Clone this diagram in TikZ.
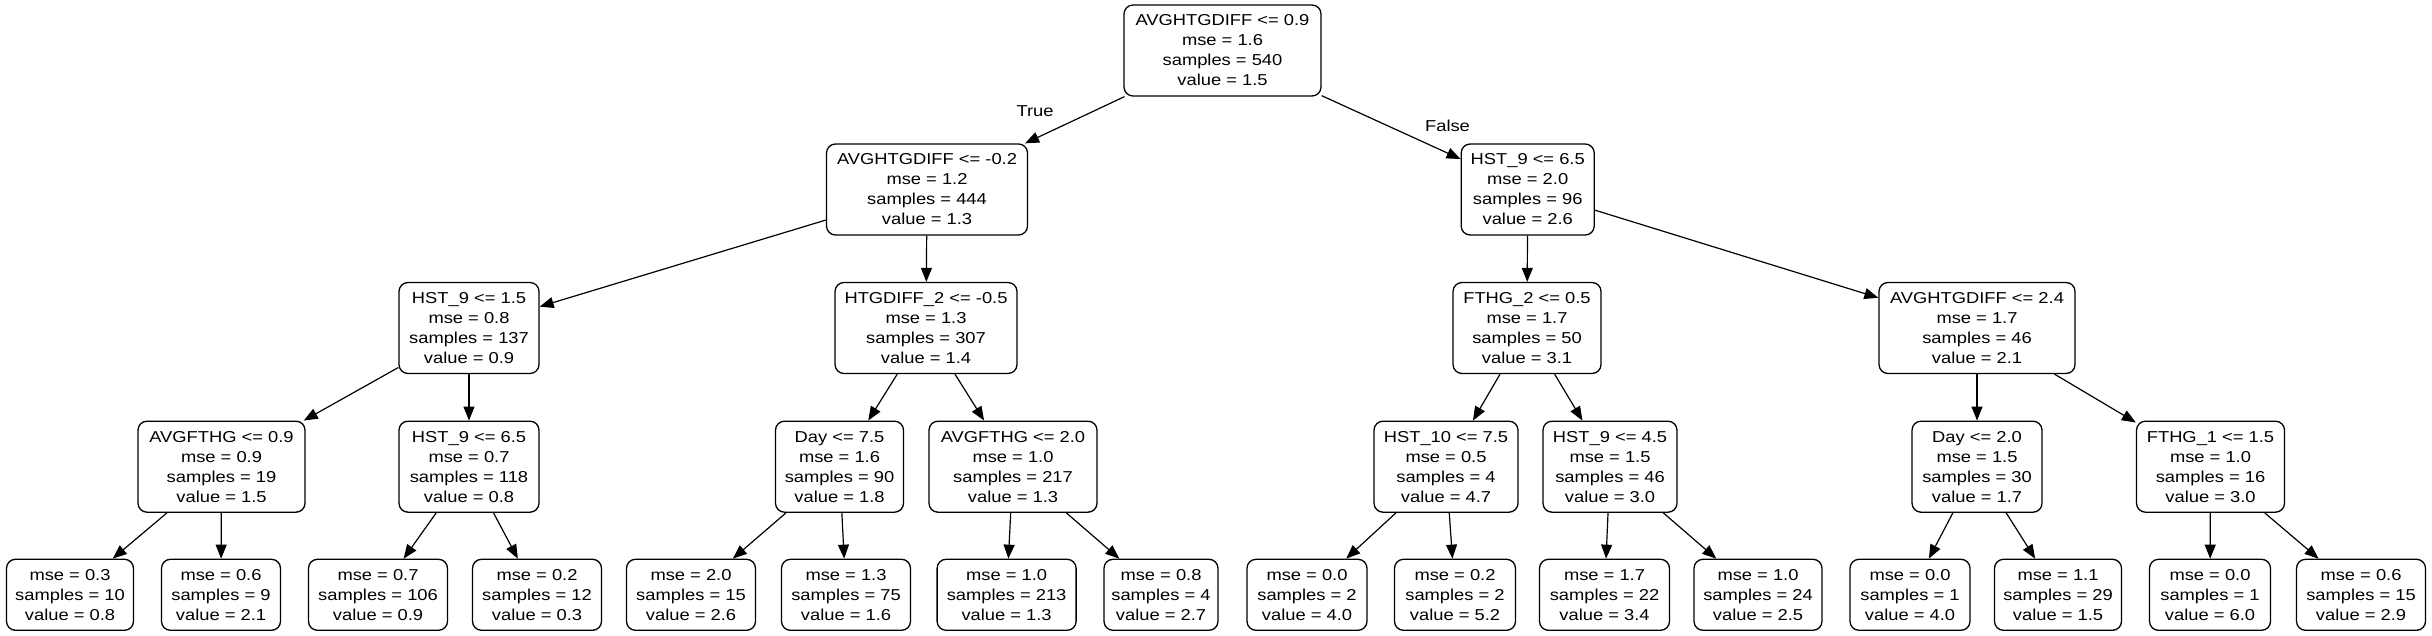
\documentclass[tikz,border=0pt]{standalone}
\usepackage{fontspec}
\setmainfont{Liberation Sans}[FakeStretch=1.16]
\usetikzlibrary{arrows.meta}
\tikzset{
  tbox/.style={draw, line width=1.3pt, rounded corners=9pt, inner sep=0pt, minimum height=91pt, align=center, font=\fontsize{15.8}{20}\selectfont},
  leaf/.style={tbox, minimum height=71pt},
  edge/.style={line width=1.2pt, -{Triangle[length=14pt,width=11pt]}},
  elabel/.style={font=\fontsize{15.8}{20}\selectfont, inner sep=0pt}
}
\begin{document}
\begin{tikzpicture}[x=1pt,y=-1pt]
\useasboundingbox (0,0) rectangle (2432,636);
% level 0
\node[tbox, minimum width=197pt] (r) at (1222.5,50.5) {AVGHTGDIFF <= 0.9\\mse = 1.6\\samples = 540\\value = 1.5};
% level 1
\node[tbox, minimum width=201pt] (a) at (927,189.5) {AVGHTGDIFF <= -0.2\\mse = 1.2\\samples = 444\\value = 1.3};
\node[tbox, minimum width=133pt] (b) at (1527.7,189.5) {HST\_9 <= 6.5\\mse = 2.0\\samples = 96\\value = 2.6};
% level 2
\node[tbox, minimum width=140pt] (c) at (469,328) {HST\_9 <= 1.5\\mse = 0.8\\samples = 137\\value = 0.9};
\node[tbox, minimum width=182pt] (d) at (926,328) {HTGDIFF\_2 <= -0.5\\mse = 1.3\\samples = 307\\value = 1.4};
\node[tbox, minimum width=148pt] (e) at (1527,328) {FTHG\_2 <= 0.5\\mse = 1.7\\samples = 50\\value = 3.1};
\node[tbox, minimum width=196pt] (f) at (1977,328) {AVGHTGDIFF <= 2.4\\mse = 1.7\\samples = 46\\value = 2.1};
% level 3
\node[tbox, minimum width=167pt] (g) at (221.5,466.7) {AVGFTHG <= 0.9\\mse = 0.9\\samples = 19\\value = 1.5};
\node[tbox, minimum width=140pt] (h) at (469,466.7) {HST\_9 <= 6.5\\mse = 0.7\\samples = 118\\value = 0.8};
\node[tbox, minimum width=128pt] (i) at (839.5,466.7) {Day <= 7.5\\mse = 1.6\\samples = 90\\value = 1.8};
\node[tbox, minimum width=168pt] (j) at (1013,466.7) {AVGFTHG <= 2.0\\mse = 1.0\\samples = 217\\value = 1.3};
\node[tbox, minimum width=144pt] (k) at (1446,466.7) {HST\_10 <= 7.5\\mse = 0.5\\samples = 4\\value = 4.7};
\node[tbox, minimum width=134pt] (l) at (1610,466.7) {HST\_9 <= 4.5\\mse = 1.5\\samples = 46\\value = 3.0};
\node[tbox, minimum width=130pt] (m) at (1977,466.7) {Day <= 2.0\\mse = 1.5\\samples = 30\\value = 1.7};
\node[tbox, minimum width=148pt] (n) at (2210.5,466.7) {FTHG\_1 <= 1.5\\mse = 1.0\\samples = 16\\value = 3.0};
% level 4
\node[leaf, minimum width=127pt] (l1) at (70,594.8) {mse = 0.3\\samples = 10\\value = 0.8};
\node[leaf, minimum width=119pt] (l2) at (221,594.8) {mse = 0.6\\samples = 9\\value = 2.1};
\node[leaf, minimum width=139pt] (l3) at (378,594.8) {mse = 0.7\\samples = 106\\value = 0.9};
\node[leaf, minimum width=129pt] (l4) at (537,594.8) {mse = 0.2\\samples = 12\\value = 0.3};
\node[leaf, minimum width=129pt] (l5) at (691,594.8) {mse = 2.0\\samples = 15\\value = 2.6};
\node[leaf, minimum width=129pt] (l6) at (846,594.8) {mse = 1.3\\samples = 75\\value = 1.6};
\node[leaf, minimum width=139pt] (l7) at (1006.6,594.8) {mse = 1.0\\samples = 213\\value = 1.3};
\node[leaf, minimum width=114pt] (l8) at (1161,594.8) {mse = 0.8\\samples = 4\\value = 2.7};
\node[leaf, minimum width=120pt] (l9) at (1307,594.8) {mse = 0.0\\samples = 2\\value = 4.0};
\node[leaf, minimum width=121pt] (l10) at (1455,594.8) {mse = 0.2\\samples = 2\\value = 5.2};
\node[leaf, minimum width=130pt] (l11) at (1604.5,594.8) {mse = 1.7\\samples = 22\\value = 3.4};
\node[leaf, minimum width=128pt] (l12) at (1758,594.8) {mse = 1.0\\samples = 24\\value = 2.5};
\node[leaf, minimum width=120pt] (l13) at (1910,594.8) {mse = 0.0\\samples = 1\\value = 4.0};
\node[leaf, minimum width=127pt] (l14) at (2058,594.8) {mse = 1.1\\samples = 29\\value = 1.5};
\node[leaf, minimum width=121pt] (l15) at (2210,594.8) {mse = 0.0\\samples = 1\\value = 6.0};
\node[leaf, minimum width=129pt] (l16) at (2361,594.8) {mse = 0.6\\samples = 15\\value = 2.9};
% edge labels
\node[elabel] (tl) at (1035,111) {True};
\node[elabel] (fl) at (1447.5,126) {False};
% edges
\draw[edge] (r) -- (a);
\draw[edge] (r) -- (b);
\draw[edge] (a) -- (c);
\draw[edge] (a) -- (d);
\draw[edge] (b) -- (e);
\draw[edge] (b) -- (f);
\draw[edge] (c) -- (g);
\draw[edge] (c) -- (h);
\draw[edge] (d) -- (i);
\draw[edge] (d) -- (j);
\draw[edge] (e) -- (k);
\draw[edge] (e) -- (l);
\draw[edge] (f) -- (m);
\draw[edge] (f) -- (n);
\draw[edge] (g) -- (l1);
\draw[edge] (g) -- (l2);
\draw[edge] (h) -- (l3);
\draw[edge] (h) -- (l4);
\draw[edge] (i) -- (l5);
\draw[edge] (i) -- (l6);
\draw[edge] (j) -- (l7);
\draw[edge] (j) -- (l8);
\draw[edge] (k) -- (l9);
\draw[edge] (k) -- (l10);
\draw[edge] (l) -- (l11);
\draw[edge] (l) -- (l12);
\draw[edge] (m) -- (l13);
\draw[edge] (m) -- (l14);
\draw[edge] (n) -- (l15);
\draw[edge] (n) -- (l16);
\end{tikzpicture}
\end{document}
